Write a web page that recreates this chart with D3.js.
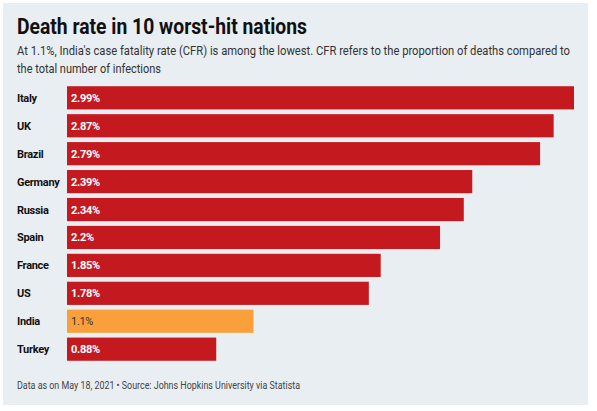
<!DOCTYPE html><html><head><meta charset="utf-8">
<script src="https://cdn.jsdelivr.net/npm/d3@7"></script>
<style>body{margin:0;background:#fff}svg{display:block}text{font-family:"Liberation Sans Narrow","Roboto",sans-serif}</style>
</head><body><svg width="597" height="411"></svg>
<script>
const countries=["Italy","UK","Brazil","Germany","Russia","Spain","France","US","India","Turkey"];
const rates=[2.99,2.87,2.79,2.39,2.34,2.2,1.85,1.78,1.1,0.88];
const labels=["2.99%","2.87%","2.79%","2.39%","2.34%","2.2%","1.85%","1.78%","1.1%","0.88%"];
const svg=d3.select("svg");
svg.append("rect").attr("x",3).attr("y",3).attr("width",585).attr("height",402).attr("fill","#e9eef3");
function fit(t,w){t.attr("textLength",w).attr("lengthAdjust","spacingAndGlyphs");return t;}
fit(svg.append("text").attr("x",17).attr("y",34).attr("font-size",22).attr("font-weight","bold").attr("fill","#111").text("Death rate in 10 worst-hit nations"),290);
fit(svg.append("text").attr("x",17).attr("y",55).attr("font-size",13).attr("fill","#333").text("At 1.1%, India's case fatality rate (CFR) is among the lowest. CFR refers to the proportion of deaths compared to"),553);
fit(svg.append("text").attr("x",17).attr("y",73).attr("font-size",13).attr("fill","#333").text("the total number of infections"),144);
const x=d3.scaleLinear().domain([0,2.99]).range([67,574]);
const y=d3.scaleBand().domain(countries).range([84,363]).paddingInner(0.17).paddingOuter(0.08);
const g=svg.append("g");
countries.forEach((c,i)=>{
  const yy=y(c),h=y.bandwidth();
  g.append("rect").attr("x",x(0)).attr("y",yy).attr("width",x(rates[i])-x(0)).attr("height",h).attr("fill",c==="India"?"#f9a03c":"#c41a1f");
  g.append("text").attr("x",17).attr("y",yy+h/2+4).attr("font-size",11).attr("font-weight","bold").attr("fill","#111").attr("letter-spacing",-0.3).text(c);
  g.append("text").attr("x",x(0)+4).attr("y",yy+h/2+4).attr("font-size",11).attr("font-weight",c==="India"?"normal":"bold").attr("fill",c==="India"?"#333":"#fff").attr("letter-spacing",-0.3).text(labels[i]);
});
fit(svg.append("text").attr("x",17).attr("y",389).attr("font-size",10).attr("fill","#444").text("Data as on May 18, 2021 • Source: Johns Hopkins University via Statista"),283);
</script></body></html>
